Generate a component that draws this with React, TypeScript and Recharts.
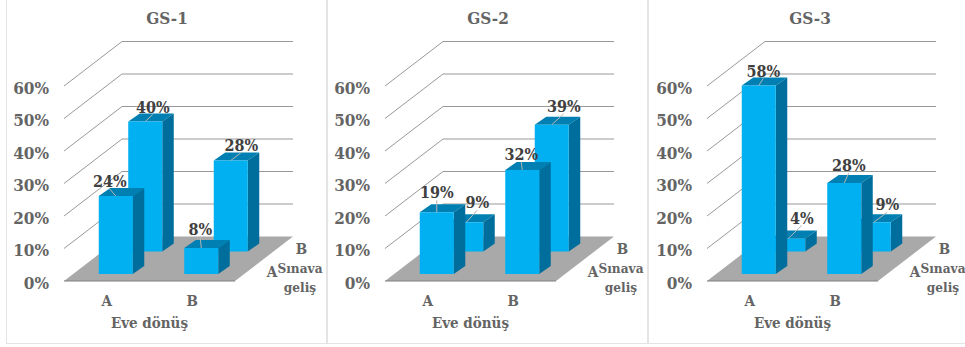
import React from "react";
import { BarChart, Bar, XAxis, YAxis, CartesianGrid, LabelList, Label } from "recharts";

const categories = ["A", "B"];
const depthCategories = ["A", "B"];
const percentTicks = [0, 10, 20, 30, 40, 50, 60];

const titles = ["GS-1", "GS-2", "GS-3"];
const nearRow = [
  [24, 8],
  [19, 32],
  [58, 28],
];
const farRow = [
  [40, 28],
  [9, 39],
  [4, 9],
];

// Hand-placed data label offsets from the top edge of each column: [dx, dy]
const nearLabelOffsets = [
  [[-6, -15], [-1, -19]],
  [[0, -20], [-1, -16]],
  [[4.5, -15], [4.5, -18]],
];
const farLabelOffsets = [
  [[7.5, -15], [10.5, -16]],
  [[11, -20], [12, -19]],
  [[13.5, -21], [13.5, -18]],
];

const FONT = "'DejaVu Serif Condensed', 'DejaVu Serif', serif";
const FACE = "#00B0F0";
const TOP = "#0080B2";
const SIDE = "#006E9C";
const GRID = "#999999";
const FLOOR = "#A9A9A9";
const TICK = "#646464";
const VALUE = "#404040";

const PANEL_W = 340;
const PANEL_H = 347;
const panelLeft = [0, 321, 642.7];
const frames = [
  [6, 327],
  [327, 648],
  [648, 970],
];

// Oblique projection of the floor: how far the back wall sits from the front edge
const WALL_DX = 58;
const WALL_DY = -44.5;
// Shift of each row of columns along the floor, and the depth of one column
const NEAR = { dx: 8.75, dy: -7 };
const FAR = { dx: 38.25, dy: -29.5 };
const COL_DX = 11.5;
const COL_DY = -8;

function Column(props: any, row: { dx: number; dy: number }) {
  const x = props.x + row.dx;
  const y = props.y + row.dy;
  const w = props.width;
  const h = props.height;
  return (
    <g>
      <polygon
        points={`${x},${y} ${x + COL_DX},${y + COL_DY} ${x + w + COL_DX},${y + COL_DY} ${x + w},${y}`}
        fill={TOP}
      />
      <polygon
        points={`${x + w},${y} ${x + w + COL_DX},${y + COL_DY} ${x + w + COL_DX},${y + h + COL_DY} ${x + w},${y + h}`}
        fill={SIDE}
      />
      <rect x={x} y={y} width={w} height={h} fill={FACE} />
    </g>
  );
}

function ValueLabel(props: any, row: { dx: number; dy: number }, offsets: number[][]) {
  const [ox, oy] = offsets[props.index];
  const cx = props.x + row.dx + props.width / 2;
  const top = props.y + row.dy;
  return (
    <g>
      <line x1={cx + ox} y1={top + oy + 8} x2={cx} y2={top} stroke="#B5B5B5" strokeWidth={1} />
      <text
        x={cx + ox}
        y={top + oy + 6}
        textAnchor="middle"
        fontFamily={FONT}
        fontWeight={700}
        fontSize={16}
        fill={VALUE}
      >
        {`${props.value}%`}
      </text>
    </g>
  );
}

// One horizontal tick becomes a wall line plus its slanted side; the zero tick becomes the floor
function WallRow(props: any) {
  const { x1, y1, x2 } = props;
  return (
    <g key={props.key}>
      {y1 > 280 ? (
        <g>
          <polygon
            points={`${x1},${y1} ${x2},${y1} ${x2 + WALL_DX},${y1 + WALL_DY} ${x1 + WALL_DX},${y1 + WALL_DY}`}
            fill={FLOOR}
          />
          <line x1={x1} y1={y1} x2={x2} y2={y1} stroke="#7F7F7F" strokeWidth={1} />
        </g>
      ) : (
        <g fill="none" stroke={GRID} strokeWidth={1}>
          <line x1={x1} y1={y1} x2={x1 + WALL_DX} y2={y1 + WALL_DY} />
          <line x1={x1 + WALL_DX} y1={y1 + WALL_DY} x2={x2 + WALL_DX} y2={y1 + WALL_DY} />
        </g>
      )}
    </g>
  );
}

function Panel({ which }: { which: number }) {
  const data = categories.map((name, i) => ({
    name,
    near: nearRow[which][i],
    far: farRow[which][i],
  }));
  return (
    <div style={{ position: "absolute", left: panelLeft[which], top: 0 }}>
      <BarChart
        width={PANEL_W}
        height={PANEL_H}
        data={data}
        barSize={34}
        barGap={-34}
        margin={{ top: 86, right: PANEL_W - 235, bottom: 0, left: 0 }}
      >
        <text
          x={167}
          y={24}
          textAnchor="middle"
          fontFamily={FONT}
          fontWeight={700}
          fontSize={17}
          fill={TICK}
        >
          {titles[which]}
        </text>
        <CartesianGrid vertical={false} horizontal={WallRow} />
        <XAxis
          dataKey="name"
          height={66}
          axisLine={false}
          tickLine={false}
          tickSize={0}
          tickMargin={14}
          tick={{ fontFamily: FONT, fontWeight: 700, fontSize: 15, fill: TICK }}
        >
          <Label
            value="Eve dönüş"
            position="insideBottom"
            offset={19}
            style={{ fontFamily: FONT, fontWeight: 700, fontSize: 15, fill: TICK }}
          />
        </XAxis>
        <YAxis
          width={64}
          domain={[0, 60]}
          ticks={percentTicks}
          interval={0}
          axisLine={false}
          tickLine={false}
          tickSize={0}
          tickMargin={15}
          tickFormatter={(v: number) => `${v}%`}
          tick={{ fontFamily: FONT, fontWeight: 700, fontSize: 17, fill: TICK, dy: 1.5 }}
        />
        <Bar dataKey="far" isAnimationActive={false} shape={(p: any) => Column(p, FAR)}>
          <LabelList
            dataKey="far"
            content={(p: any) => ValueLabel(p, FAR, farLabelOffsets[which])}
          />
        </Bar>
        <Bar dataKey="near" isAnimationActive={false} shape={(p: any) => Column(p, NEAR)}>
          <LabelList
            dataKey="near"
            content={(p: any) => ValueLabel(p, NEAR, nearLabelOffsets[which])}
          />
        </Bar>
        <g fontFamily={FONT} fontWeight={700} fontSize={15} fill={TICK} textAnchor="middle">
          <text x={272} y={277}>{depthCategories[0]}</text>
          <text x={301.5} y={253.5}>{depthCategories[1]}</text>
          <text x={300} y={273} fontSize={13.5}>Sınava</text>
          <text x={300} y={292} fontSize={13.5}>geliş</text>
        </g>
      </BarChart>
    </div>
  );
}

export default function App() {
  return (
    <div style={{ position: "fixed", left: 0, top: 0, width: 965, height: 347, background: "#fff", overflow: "hidden" }}>
      {frames.map(([l, r], i) => (
        <div
          key={i}
          style={{
            position: "absolute",
            left: l,
            top: -2,
            width: r - l,
            height: 346,
            boxSizing: "border-box",
            border: "1.5px solid #E4E4E4",
          }}
        />
      ))}
      {titles.map((_, i) => (
        <Panel key={i} which={i} />
      ))}
    </div>
  );
}
